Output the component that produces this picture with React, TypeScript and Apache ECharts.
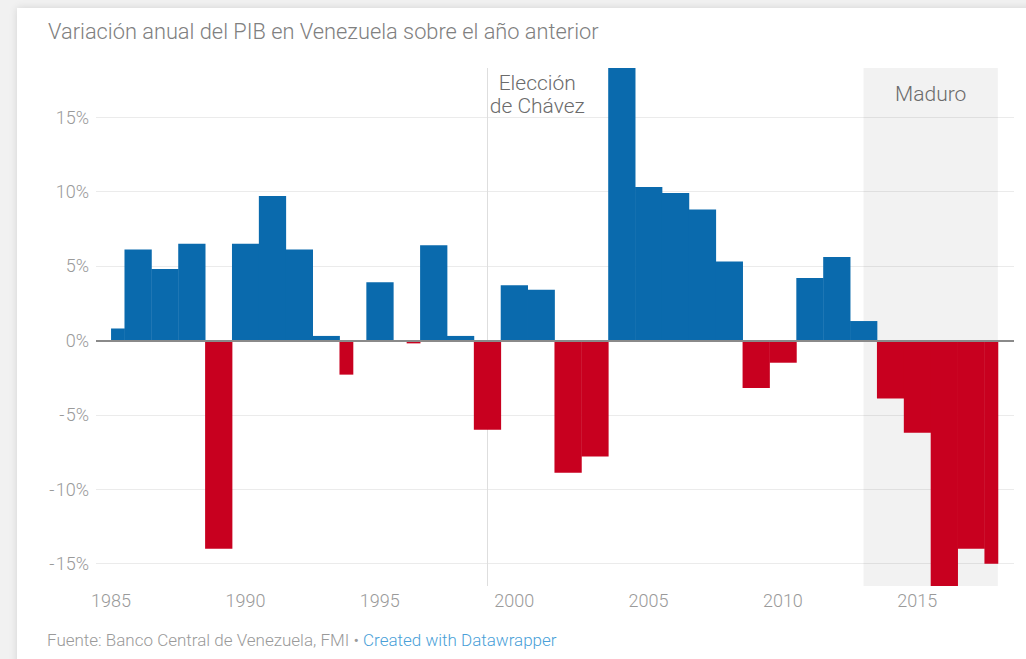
import React, { useEffect, useRef } from 'react';
import * as echarts from 'echarts';

const years = [
  1985, 1986, 1987, 1988, 1989, 1990, 1991, 1992, 1993, 1994, 1995, 1996,
  1997, 1998, 1999, 2000, 2001, 2002, 2003, 2004, 2005, 2006, 2007, 2008,
  2009, 2010, 2011, 2012, 2013, 2014, 2015, 2016, 2017, 2018,
];
const gdpChange = [
  0.8, 6.1, 4.8, 6.5, -14.0, 6.5, 9.7, 6.1, 0.3, -2.3, 3.9, -0.2,
  6.4, 0.3, -6.0, 3.7, 3.4, -8.9, -7.8, 18.3, 10.3, 9.9, 8.8, 5.3,
  -3.2, -1.5, 4.2, 5.6, 1.3, -3.9, -6.2, -16.5, -14.0, -15.0,
];
// years whose step is drawn only on one half in the original (sign-change quirk)
const halfStepYears: Record<number, 'first' | 'second'> = { 1994: 'first', 1996: 'second' };
const electionYear = 1999;
const electionLabel = 'Elección\nde Chávez';
const maduroStart = 2013;
const maduroEnd = 2018;
const maduroLabel = 'Maduro';
const titleText = 'Variación anual del PIB en Venezuela sobre el año anterior';
const sourceText = 'Fuente: Banco Central de Venezuela, FMI • ';
const creditText = 'Created with Datawrapper';

const BLUE = '#0a6aad';
const RED = '#c8001f';
const FONT = 'Roboto, "Noto Sans", sans-serif';

export default function App() {
  const ref = useRef<HTMLDivElement>(null);

  useEffect(() => {
    if (!ref.current) return;
    const chart = echarts.init(ref.current, undefined, { renderer: 'svg' });
    const data = years.map((y, i) => [y, gdpChange[i]]);
    const first = years[0];
    const last = years[years.length - 1];

    chart.setOption({
      animation: false,
      textStyle: { fontFamily: FONT },
      title: {
        text: titleText,
        left: 43,
        top: 15,
        textStyle: { color: '#808080', fontWeight: 300, fontSize: 21.8, fontFamily: FONT },
      },
      grid: { left: 96, right: 12, top: 68, bottom: 73, containLabel: false },
      xAxis: {
        type: 'value',
        min: 1984.44,
        max: 2018.6,
        splitNumber: 7,
        axisLine: { show: false },
        axisTick: { show: false },
        splitLine: { show: false },
        axisLabel: {
          color: '#9a9a9a',
          fontSize: 18,
          fontWeight: 300,
          margin: 5,
          showMinLabel: false,
          showMaxLabel: false,
          formatter: (v: number) => (Math.abs(v % 5) < 1e-6 ? String(Math.round(v)) : ''),
        },
      },
      yAxis: {
        type: 'value',
        min: -16.5,
        max: 18.3,
        splitNumber: 7,
        axisLine: { show: false },
        axisTick: { show: false },
        splitLine: {
          show: true,
          showMinLine: false,
          showMaxLine: false,
          lineStyle: { color: '#ebebeb', width: 1 },
        },
        axisLabel: {
          color: '#9a9a9a',
          fontSize: 18,
          fontWeight: 300,
          fontFamily: FONT,
          margin: 7,
          showMinLabel: false,
          showMaxLabel: false,
          rich: {
            m: { width: 8, align: 'center', color: '#9a9a9a', fontSize: 18, fontWeight: 300, fontFamily: FONT },
            n: { color: '#9a9a9a', fontSize: 18, fontWeight: 300, fontFamily: FONT },
          },
          formatter: (v: number) => {
            if (Math.abs(v % 5) > 1e-6) return '';
            const n = Math.round(v);
            return n < 0 ? `{m|-}{n|${Math.abs(n)}%}` : `{n|${n}%}`;
          },
        },
      },
      graphic: [
        {
          type: 'text',
          left: 47,
          top: 631,
          style: {
            text: `{a|${sourceText}}{b|${creditText}}`,
            rich: {
              a: { fill: '#9a9a9a', fontSize: 17, fontWeight: 300, fontFamily: FONT },
              b: { fill: '#4a9fd8', fontSize: 17, fontWeight: 300, fontFamily: FONT },
            },
          },
        },
      ],
      series: [
        {
          type: 'line',
          z: 1,
          data,
          showSymbol: false,
          silent: true,
          lineStyle: { opacity: 0 },
          markArea: {
            silent: true,
            z: 1,
            itemStyle: { color: 'rgba(0,0,0,0.05)' },
            label: {
              show: true,
              position: 'insideTop',
              distance: 15,
              color: '#6b6b6b',
              fontSize: 21,
              fontWeight: 300,
              fontFamily: FONT,
            },
            data: [[{ xAxis: maduroStart, name: maduroLabel }, { xAxis: maduroEnd }]],
          },
          markLine: {
            silent: true,
            z: 1,
            symbol: 'none',
            label: { show: false },
            lineStyle: { color: '#dedede', width: 1, type: 'solid' },
            data: [{ xAxis: electionYear }],
          },
          markPoint: {
            silent: true,
            symbol: 'circle',
            symbolSize: 0,
            label: {
              show: true,
              position: 'inside',
              formatter: electionLabel,
              color: '#6b6b6b',
              fontSize: 21,
              fontWeight: 300,
              lineHeight: 23,
              align: 'center',
              fontFamily: FONT,
            },
            data: [{ coord: [electionYear + 1.86, 16.55] }],
          },
        },
        {
          type: 'custom',
          z: 3,
          data,
          encode: { x: 0, y: 1 },
          renderItem: (params: any, api: any) => {
            const year = api.value(0);
            const v = api.value(1);
            let x0 = Math.max(year - 0.5, first);
            let x1 = Math.min(year + 0.5, last);
            const half = halfStepYears[year];
            if (half === 'first') x1 = year;
            if (half === 'second') x0 = year;
            const p0 = api.coord([x0, 0]);
            const p1 = api.coord([x1, v]);
            return {
              type: 'rect',
              shape: {
                x: p0[0],
                y: Math.min(p0[1], p1[1]),
                width: p1[0] - p0[0] + 0.4,
                height: Math.abs(p1[1] - p0[1]),
              },
              style: { fill: v >= 0 ? BLUE : RED },
            };
          },
          markLine: {
            silent: true,
            z: 5,
            symbol: 'none',
            label: { show: false },
            lineStyle: { color: '#8a8a8a', width: 2, type: 'solid' },
            data: [{ yAxis: 0 }],
          },
        },
      ],
    });

    return () => chart.dispose();
  }, []);

  return (
    <div style={{ position: 'absolute', left: 0, top: 0, width: 1026, height: 659, background: '#f1f1f1', overflow: 'hidden' }}>
      <div
        style={{
          position: 'absolute',
          left: 17,
          top: 8,
          width: 1030,
          height: 670,
          background: '#ffffff',
          boxShadow: '0 0 8px rgba(0,0,0,0.12)',
        }}
      />
      <div ref={ref} style={{ position: 'absolute', left: 0, top: 0, width: 1026, height: 659 }} />
    </div>
  );
}
